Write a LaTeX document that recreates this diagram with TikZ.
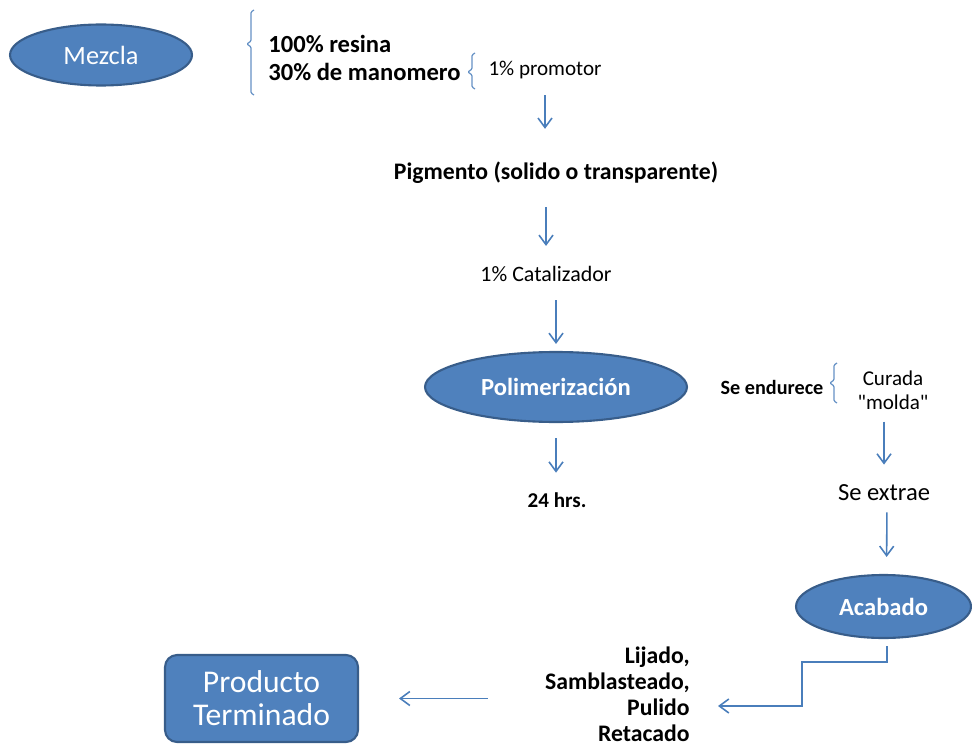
\documentclass[tikz,border=0pt]{standalone}
\usepackage{fontspec}
\setmainfont{Carlito}
\newfontfamily\llano{Carlito}[Ligatures=TeXOff]
\usetikzlibrary{shapes.geometric}
\usetikzlibrary{arrows.meta}
\definecolor{azul}{HTML}{4F81BD}
\definecolor{azulborde}{HTML}{385D8A}
\definecolor{azulflecha}{HTML}{4A7EBB}

\begin{document}
\begin{tikzpicture}[x=0.02cm,y=-0.02cm,		%pixel grid
	elipse/.style={ellipse,fill=azul,draw=azulborde,line width=1.2pt,text=white,inner sep=0pt},
	flecha/.style={draw=azulflecha,line width=0.9pt,-{Straight Barb[length=1.9mm,width=2.8mm]}},
	llave/.style={draw=azulflecha!85,line width=0.7pt,rounded corners=0.6pt},
	texto/.style={inner sep=0pt,text=black}]
\useasboundingbox (0,0) rectangle (972,746);

%top - nodes
\node[elipse,minimum width=3.64cm,minimum height=1.22cm,font=\fontsize{15}{17}\selectfont] (mezcla) at (101,55) {Mezcla};
\node[texto,anchor=west,align=left,font=\fontsize{14}{15.5}\selectfont\bfseries] (resina) at (268,58) {100\% resina\\30\% de manomero};
\node[texto,font=\fontsize{12}{14}\selectfont] (promotor) at (545,70) {1\% promotor};
\node[texto,font=\fontsize{13.5}{15}\selectfont\bfseries] (pigmento) at (556,173) {Pigmento (solido o transparente)};
\node[texto,font=\fontsize{12.5}{14}\selectfont] (catalizador) at (546,274) {1\% Catalizador};
%top - braces
\draw[llave] (254,10)--(251,12)--(251,41)--(247,44)--(251,47)--(251,93)--(254,95);	%mezcla--resina
\draw[llave] (475,53)--(472,55)--(472,69)--(468,72)--(472,75)--(472,87)--(475,89);	%resina--promotor

%middle - nodes
\node[elipse,minimum width=5.24cm,minimum height=1.4cm,font=\fontsize{14}{16}\selectfont\bfseries] (poli) at (556,387) {Polimerización};
\node[texto,font=\fontsize{11.5}{13}\selectfont\bfseries] (endurece) at (772,387) {Se endurece};
\node[texto,align=center,font=\fontsize{12}{13.6}\llano] (curada) at (893,390) {Curada\\"molda"};
\node[texto,font=\fontsize{12}{14}\selectfont\bfseries] (horas) at (557,500) {24 hrs.};
\node[texto,font=\fontsize{14}{16}\selectfont] (extrae) at (884,493) {Se extrae};
%middle - brace
\draw[llave] (837,363)--(834,365)--(834,380)--(830,383)--(834,386)--(834,401)--(837,403);	%endurece--curada

%bottom - nodes
\node[elipse,minimum width=3.5cm,minimum height=1.26cm,font=\fontsize{14}{16}\selectfont\bfseries] (acabado) at (883.5,606.5) {Acabado};
\node[texto,anchor=east,align=right,font=\fontsize{13.5}{14.8}\selectfont\bfseries] (pasos) at (690,694) {Lijado,\\Samblasteado,\\Pulido\\Retacado};
\node[rectangle,rounded corners=0.24cm,fill=azul,draw=azulborde,line width=1.2pt,text=white,
	minimum width=3.86cm,minimum height=1.74cm,align=center,font=\fontsize{18}{18.8}\selectfont] (producto) at (261.5,698.5) {Producto\\Terminado};
\coordinate (codo) at (802,662);
\coordinate (fin) at (718,706);

%arrows
\draw[flecha,shorten <=0.32cm,shorten >=0.66cm] (promotor.south)--(promotor.south |- pigmento.north);	%promotor--pigmento
\draw[flecha,shorten <=0.46cm,shorten >=0.4cm] (catalizador.north |- pigmento.south)--(catalizador.north);	%pigmento--catalizador
\draw[flecha,shorten <=0.36cm,shorten >=0.14cm] (poli.north |- catalizador.south)--(poli.north);	%catalizador--poli
\draw[flecha,shorten <=0.3cm,shorten >=0.39cm] (poli.south)--(poli.south |- horas.north);	%poli--horas
\draw[flecha,shorten <=0.24cm,shorten >=0.4cm] (extrae.north |- curada.south)--(extrae.north);	%curada--extrae
\draw[flecha,shorten <=0.22cm,shorten >=0.34cm] ([xshift=0.06cm]extrae.south)--([xshift=0.06cm]acabado.north);	%extrae--acabado
\draw[flecha,shorten <=0.14cm] ([xshift=0.07cm]acabado.south) |- (codo) |- (fin);	%acabado--pasos
\draw[flecha,shorten <=1.14cm,shorten >=0.8cm] (pasos.west |- producto.east)--(producto.east);	%pasos--producto
\end{tikzpicture}
\end{document}
